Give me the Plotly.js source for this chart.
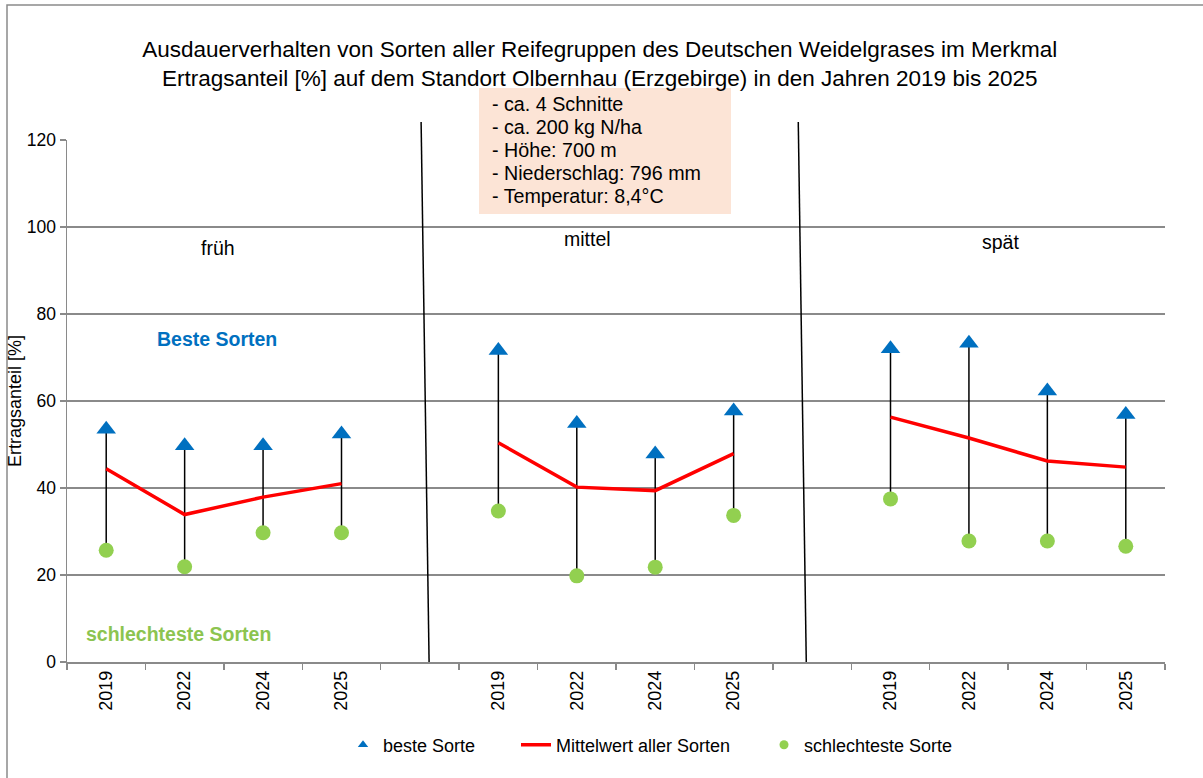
<!DOCTYPE html>
<html>
<head>
<meta charset="utf-8">
<script src="https://cdn.plot.ly/plotly-3.0.1.min.js"></script>
<style>html,body{margin:0;padding:0;background:#fff;}#chart{width:1203px;height:778px;}</style>
</head>
<body>
<div id="chart"></div>
<script>
// ---- data ----
const groups = ['früh', 'mittel', 'spät'];
const years = ['2019', '2022', '2024', '2025'];
const best  = [53.5, 49.7, 49.7, 52.4,  71.6, 54.8, 47.8, 57.7,  72.0, 73.3, 62.3, 56.9];
const mean  = [44.4, 33.9, 37.9, 41.0,  50.4, 40.2, 39.4, 47.9,  56.3, 51.5, 46.2, 44.8];
const worst = [25.7, 21.9, 29.7, 29.7,  34.7, 19.8, 21.8, 33.7,  37.5, 27.8, 27.8, 26.6];
const infoLines = ['- ca. 4 Schnitte', '- ca. 200 kg N/ha', '- Höhe: 700 m', '- Niederschlag: 796 mm', '- Temperatur: 8,4°C'];
const seriesNames = ['beste Sorte', 'Mittelwert aller Sorten', 'schlechteste Sorte'];

// positions: 4 categories per group, one empty slot between groups
const xs = [], ticktext = [];
groups.forEach((g, gi) => years.forEach((yr, yi) => { xs.push(gi * 5 + yi); ticktext.push(yr); }));

// mean line with gaps between groups
const mx = [], my = [];
xs.forEach((x, i) => { if (i > 0 && i % 4 === 0) { mx.push(null); my.push(null); } mx.push(x); my.push(mean[i]); });

// high-low lines
const hx = [], hy = [];
xs.forEach((x, i) => { hx.push(x, x, null); hy.push(worst[i], best[i], null); });

const BLUE = '#0070C0', RED = '#FF0000', GREEN = '#92D050';
const FONT = 'Liberation Sans, Arial, sans-serif';

const W = 1098, H = 522, L = 67, T = 140;
const px = v => (v - L) / W;
const py = v => (T + H - v) / H;

const traces = [
  {x: hx, y: hy, mode: 'lines', line: {color: '#000', width: 1.5}, showlegend: false, hoverinfo: 'skip'},
  {x: mx, y: my, mode: 'lines', line: {color: RED, width: 3.5}, showlegend: false, connectgaps: false},
  {x: xs, y: best, mode: 'markers', marker: {symbol: 'triangle-up', size: 17, color: BLUE}, showlegend: false},
  {x: xs, y: worst, mode: 'markers', marker: {symbol: 'circle', size: 15, color: GREEN}, showlegend: false},
  // legend entries
  {x: [null], y: [null], mode: 'markers', name: seriesNames[0], legend: 'legend', marker: {symbol: 'triangle-up', size: 9, color: BLUE}},
  {x: [null], y: [null], mode: 'lines', name: seriesNames[1], legend: 'legend2', line: {color: RED, width: 3.5}},
  {x: [null], y: [null], mode: 'markers', name: seriesNames[2], legend: 'legend3', marker: {symbol: 'circle', size: 9, color: GREEN}}
];

const annotations = [
  {text: groups[0], x: 1.43, y: 95.2},
  {text: groups[1], x: 6.14, y: 97.2},
  {text: groups[2], x: 11.4, y: 96.6}
].map(a => Object.assign(a, {xref: 'x', yref: 'y', showarrow: false, font: {family: FONT, size: 19.5, color: '#000'}}));

annotations.push({text: '<b>Beste Sorten</b>', x: 1.41, y: 74.3, xref: 'x', yref: 'y', showarrow: false, font: {family: FONT, size: 19.5, color: BLUE}});
annotations.push({text: '<b>schlechteste Sorten</b>', x: 0.92, y: 6.4, xref: 'x', yref: 'y', showarrow: false, font: {family: FONT, size: 19.5, color: '#8CC450'}});

infoLines.forEach((t, i) => annotations.push({
  text: t, xref: 'paper', yref: 'paper', x: px(490), y: py(104 + i * 23), xanchor: 'left', yanchor: 'middle',
  showarrow: false, font: {family: FONT, size: 19.7, color: '#000'}
}));

const shapes = [
  {type: 'rect', xref: 'paper', yref: 'paper', x0: px(7), x1: 1.2, y0: -0.4, y1: py(5), line: {color: '#8a8a8a', width: 1.5}, fillcolor: 'rgba(0,0,0,0)', layer: 'below'},
  {type: 'rect', xref: 'paper', yref: 'paper', x0: px(479), x1: px(731), y0: py(214), y1: py(88), line: {width: 0}, fillcolor: '#FCE4D6'},
  {type: 'line', xref: 'x', yref: 'paper', x0: 4.015, x1: 4.117, y0: py(122), y1: 0, line: {color: '#000', width: 1.5}},
  {type: 'line', xref: 'x', yref: 'paper', x0: 8.824, x1: 8.926, y0: py(122), y1: 0, line: {color: '#000', width: 1.5}}
];

const legendBase = {orientation: 'h', xanchor: 'left', y: py(745), yanchor: 'middle', font: {family: FONT, size: 18, color: '#000'}, bgcolor: 'rgba(0,0,0,0)', borderwidth: 0};

const layout = {
  width: 1203, height: 778,
  margin: {l: L, r: 1203 - L - W, t: T, b: 778 - T - H},
  paper_bgcolor: '#fff', plot_bgcolor: '#fff',
  font: {family: FONT, color: '#000'},
  title: {
    text: 'Ausdauerverhalten von Sorten aller Reifegruppen des Deutschen Weidelgrases im Merkmal<br>Ertragsanteil [%] auf dem Standort Olbernhau (Erzgebirge) in den Jahren 2019 bis 2025',
    font: {family: FONT, size: 22.5, color: '#000'}, x: 0.4985, xanchor: 'center', y: 1 - 56.5 / 778, yanchor: 'middle'
  },
  xaxis: {
    range: [-0.5, 13.5], tickmode: 'array', tickvals: xs, ticktext: ticktext, tickangle: -90,
    ticks: '', showgrid: false, zeroline: false, showline: true, linecolor: '#8a8a8a', linewidth: 1.5,
    tickfont: {family: FONT, size: 18, color: '#000'},
    minor: {tickmode: 'linear', tick0: -0.5, dtick: 1, ticks: 'outside', ticklen: 6, tickcolor: '#8a8a8a', tickwidth: 1.3, showgrid: false},
    fixedrange: true
  },
  yaxis: {
    range: [0, 120], dtick: 20, tick0: 0, ticks: 'outside', ticklen: 6, tickcolor: '#8a8a8a', tickwidth: 1.3,
    showgrid: true, gridcolor: '#8a8a8a', gridwidth: 1.3, zeroline: false,
    showline: true, linecolor: '#8a8a8a', linewidth: 1.5,
    tickfont: {family: FONT, size: 17.5, color: '#000'},
    title: {text: 'Ertragsanteil [%]', font: {family: FONT, size: 18, color: '#000'}, standoff: 0},
    fixedrange: true
  },
  showlegend: true,
  legend: Object.assign({}, legendBase, {x: px(385 - 42)}),
  legend2: Object.assign({}, legendBase, {x: px(558 - 42)}),
  legend3: Object.assign({}, legendBase, {x: px(806 - 42)}),
  annotations: annotations,
  shapes: shapes
};

Plotly.newPlot('chart', traces, layout, {displayModeBar: false, staticPlot: true});
</script>
</body>
</html>
